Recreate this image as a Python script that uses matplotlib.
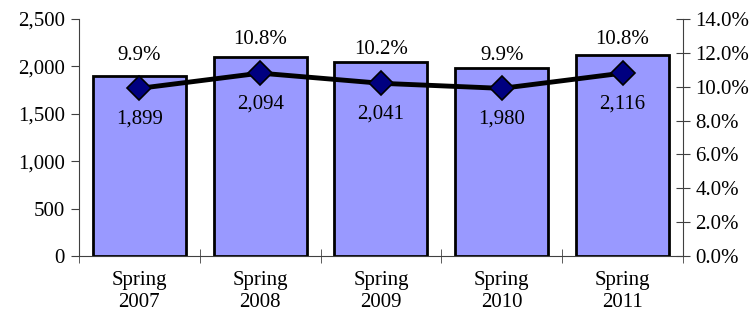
import matplotlib.pyplot as plt
from matplotlib.ticker import FuncFormatter

plt.rcParams['font.family'] = ['Liberation Serif', 'DejaVu Serif']

categories = ['Spring\n2007', 'Spring\n2008', 'Spring\n2009', 'Spring\n2010', 'Spring\n2011']
counts = [1899, 2094, 2041, 1980, 2116]
rates = [9.9, 10.8, 10.2, 9.9, 10.8]

axis_col = '#404040'
fs = 15

fig = plt.figure(figsize=(7.55, 3.16), dpi=100)
ax = fig.add_axes([0.1046, 0.19, 0.8, 0.75])
x = list(range(len(categories)))

ax.bar(x, counts, width=0.77, color='#9999FF', edgecolor='black', linewidth=2, zorder=2)
ax.set_xlim(-0.5, len(categories) - 0.5)
ax.set_ylim(0, 2500)
ax.set_yticks(range(0, 2501, 500))
ax.yaxis.set_major_formatter(FuncFormatter(lambda v, p: f'{int(v):,}'))
ax.set_xticks(x)
ax.set_xticklabels(categories, fontsize=fs, linespacing=1.2)
ax.set_xticks([i - 0.5 for i in range(len(categories) + 1)], minor=True)
ax.tick_params(axis='x', which='major', length=0, pad=11)
ax.tick_params(axis='x', which='minor', direction='inout', length=10, color=axis_col)
ax.tick_params(axis='y', direction='out', length=6, color=axis_col, labelsize=fs, pad=4)
for s in ['top', 'right']:
    ax.spines[s].set_visible(False)
for s in ['left', 'bottom']:
    ax.spines[s].set_color(axis_col)

ax2 = ax.twinx()
ax2.set_ylim(0, 14)
ax2.set_yticks(range(0, 15, 2))
ax2.yaxis.set_major_formatter(FuncFormatter(lambda v, p: f'{v:.1f}%'))
ax2.tick_params(axis='y', direction='inout', length=10, color=axis_col, labelsize=fs, pad=4)
for s in ['top', 'left', 'bottom']:
    ax2.spines[s].set_visible(False)
ax2.spines['right'].set_color(axis_col)

ax2.plot(x, rates, color='black', linewidth=3.5, marker='D', markersize=12,
         markerfacecolor='#000080', markeredgecolor='black', markeredgewidth=1.2, zorder=3)

for xi, r, c in zip(x, rates, counts):
    ax2.annotate(f'{r:.1f}%', (xi, r), xytext=(0, 24), textcoords='offset points',
                 ha='center', va='center', fontsize=fs)
    ax2.annotate(f'{c:,}', (xi, r), xytext=(0, -22), textcoords='offset points',
                 ha='center', va='center', fontsize=fs)

fig.savefig('out.png', dpi=100)
